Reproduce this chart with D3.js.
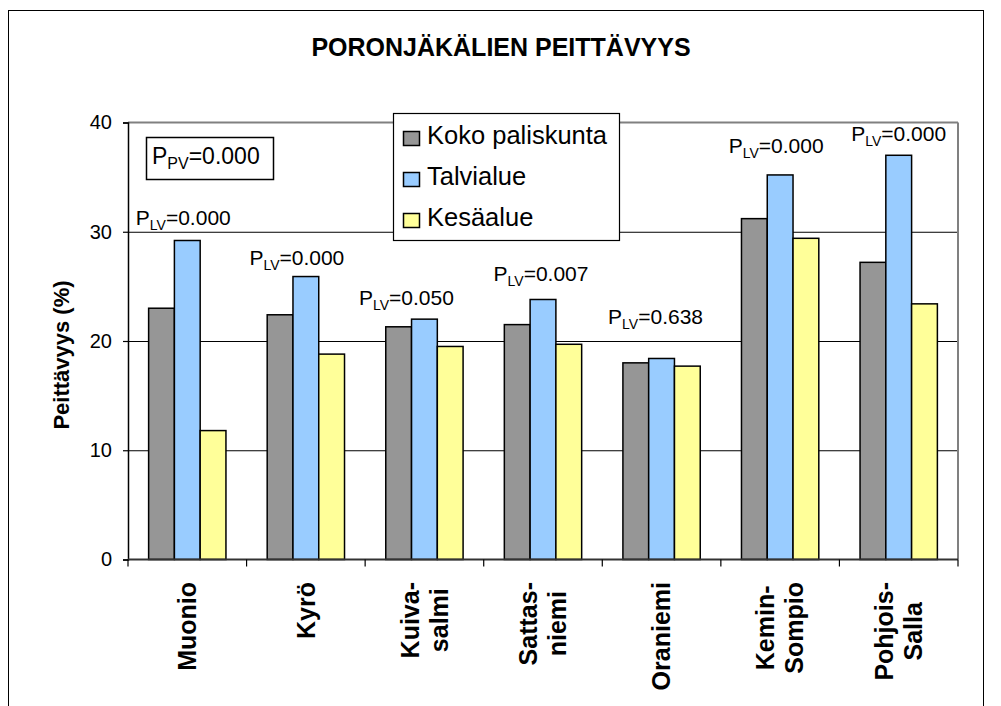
<!DOCTYPE html>
<html>
<head>
<meta charset="utf-8">
<script src="https://cdn.jsdelivr.net/npm/d3@7"></script>
<style>
body { margin: 0; background: #fff; }
svg text { font-family: Arial, "Liberation Sans", sans-serif; fill: #000; }
</style>
</head>
<body>
<svg id="chart" width="1001" height="706"></svg>
<script>
// values
const categories = ["Muonio", "Kyrö", "Kuiva-salmi", "Sattas-niemi", "Oraniemi", "Kemin-Sompio", "Pohjois-Salla"];
const seriesNames = ["Koko paliskunta", "Talvialue", "Kesäalue"];
const kokoValues = [23.0, 22.4, 21.3, 21.5, 18.0, 31.2, 27.2];
const talviValues = [29.2, 25.9, 22.0, 23.8, 18.4, 35.2, 37.0];
const kesaValues = [11.8, 18.8, 19.5, 19.7, 17.7, 29.4, 23.4];
const pLvValues = ["0.000", "0.000", "0.050", "0.007", "0.638", "0.000", "0.000"];
const pLvLevels = [30.6, 27.0, 23.3, 25.5, 21.6, 37.2, 38.3];   // where each label sits, in %
const pPvValue = "0.000";
const yTicks = [0, 10, 20, 30, 40];

const seriesColors = ["#969696", "#99ccff", "#ffff99"];
const labelNudge = [-4, -9, -18, -2, -6, -4, 0];

class PeittavyysChart {
    constructor(svg_id) {
        this.svg = d3.select("#" + svg_id);
        this.plot = {left: 128, right: 958, top: 122.5, bottom: 559.5};
        this.render();
    }

    render() {
        let svg = this.svg;
        let plot = this.plot;
        let plotW = plot.right - plot.left;

        let rows = categories.map(function(c, i) {
            return {name: c, values: [kokoValues[i], talviValues[i], kesaValues[i]]};
        });

        // outer frame (bottom runs off the page)
        svg.append("rect")
            .attr("x", 8.5).attr("y", 10.5)
            .attr("width", 975).attr("height", 720)
            .style("fill", "#fff").style("stroke", "#000").style("stroke-width", 1);

        let x0 = d3.scaleBand().domain(categories).range([plot.left, plot.right]);
        let bw = x0.bandwidth();
        let gap = bw * 1.6 / 4.6;
        let x1 = d3.scaleBand().domain(seriesNames).range([gap / 2, bw - gap / 2]);
        let y = d3.scaleLinear().domain([0, 40]).range([plot.bottom, plot.top]);

        // gridlines
        let grid = svg.append("g")
            .attr("transform", "translate(" + plot.left + ",0)")
            .call(d3.axisLeft(y).tickValues(yTicks.filter(t => t > 0 && t < 40)).tickSize(-plotW).tickFormat(""));
        grid.select(".domain").remove();
        grid.selectAll("line").style("stroke", "#000").style("stroke-width", 1);

        // plot area border top / right
        svg.append("line")
            .attr("x1", plot.left).attr("x2", plot.right)
            .attr("y1", y(40)).attr("y2", y(40))
            .style("stroke", "#808080").style("stroke-width", 2);
        svg.append("line")
            .attr("x1", plot.right).attr("x2", plot.right)
            .attr("y1", y(40)).attr("y2", y(0))
            .style("stroke", "#808080").style("stroke-width", 2);

        // bars
        let groups = svg.selectAll("g.group")
            .data(rows)
            .enter()
            .append("g")
            .attr("class", "group")
            .attr("transform", d => "translate(" + x0(d.name) + ",0)");

        groups.selectAll("rect")
            .data(d => d.values.map((v, j) => ({series: seriesNames[j], value: v, j: j})))
            .enter()
            .append("rect")
            .attr("x", d => x1(d.series))
            .attr("y", d => y(d.value))
            .attr("width", x1.bandwidth())
            .attr("height", d => y(0) - y(d.value))
            .style("fill", d => seriesColors[d.j])
            .style("stroke", "#000")
            .style("stroke-width", 1.5);

        // y axis
        let yAxis = d3.axisLeft(y).tickValues(yTicks).tickSize(5).tickPadding(11);
        let gY = svg.append("g")
            .attr("transform", "translate(" + plot.left + ",0)")
            .call(yAxis);
        gY.select(".domain").style("stroke", "#000").style("stroke-width", 1.5);
        gY.selectAll(".tick line").style("stroke", "#000").style("stroke-width", 1.2);
        gY.selectAll(".tick text").style("font-size", "20px").style("font-family", "Arial, 'Liberation Sans', sans-serif");

        // x axis line + ticks at category boundaries
        svg.append("line")
            .attr("x1", plot.left).attr("x2", plot.right)
            .attr("y1", y(0)).attr("y2", y(0))
            .style("stroke", "#333").style("stroke-width", 2);
        let bounds = categories.map(c => x0(c)).concat([plot.right]);
        svg.selectAll("line.xtick")
            .data(bounds)
            .enter()
            .append("line")
            .attr("class", "xtick")
            .attr("x1", d => d).attr("x2", d => d)
            .attr("y1", y(0)).attr("y2", y(0) + 7)
            .style("stroke", "#000").style("stroke-width", 1.2);

        // category labels, rotated
        let labelTop = 582;
        categories.forEach(function(c) {
            let lines = c.split(/(?<=-)/);
            let cx = x0(c) + bw / 2;
            let g = svg.append("g").attr("transform", "translate(" + cx + ",0) rotate(-90)");
            let texts = lines.map(function(line, i) {
                return g.append("text")
                    .attr("y", (i - (lines.length - 1) / 2) * 29)
                    .attr("dy", "0.35em")
                    .attr("text-anchor", "middle")
                    .style("font-size", "25px")
                    .style("font-weight", "bold")
                    .text(line);
            });
            let maxLen = d3.max(texts, t => t.node().getComputedTextLength());
            texts.forEach(t => t.attr("x", -(labelTop + maxLen / 2)));
        });

        // P_LV labels
        rows.forEach(function(d, i) {
            let t = svg.append("text")
                .attr("x", x0(d.name) + bw / 2 + labelNudge[i])
                .attr("y", y(pLvLevels[i]))
                .attr("text-anchor", "middle")
                .style("font-size", "21px");
            t.append("tspan").text("P");
            t.append("tspan").attr("dy", 5).style("font-size", "14px").text("LV");
            t.append("tspan").attr("dy", -5).text("=" + pLvValues[i]);
        });

        // P_PV box
        svg.append("rect")
            .attr("x", 146.5).attr("y", 137.5)
            .attr("width", 127).attr("height", 42)
            .style("fill", "#fff").style("stroke", "#000").style("stroke-width", 1.5);
        let pv = svg.append("text").attr("x", 152).attr("y", 164).style("font-size", "23px");
        pv.append("tspan").text("P");
        pv.append("tspan").attr("dy", 5).style("font-size", "16px").text("PV");
        pv.append("tspan").attr("dy", -5).text("=" + pPvValue);

        // legend
        let legend = svg.append("g");
        legend.append("rect")
            .attr("x", 393.5).attr("y", 113.5)
            .attr("width", 226).attr("height", 127)
            .style("fill", "#fff").style("stroke", "#000").style("stroke-width", 1.2);
        seriesNames.forEach(function(s, i) {
            let base = 143.5 + i * 41;
            legend.append("rect")
                .attr("x", 403.5).attr("y", base - 12)
                .attr("width", 16).attr("height", 14)
                .style("fill", seriesColors[i]).style("stroke", "#000").style("stroke-width", 1.5);
            legend.append("text")
                .attr("x", 427).attr("y", base)
                .style("font-size", "25.5px")
                .text(s);
        });

        // title and y label
        svg.append("text")
            .attr("x", 501).attr("y", 56)
            .attr("text-anchor", "middle")
            .style("font-size", "25px").style("font-weight", "bold")
            .text("PORONJÄKÄLIEN PEITTÄVYYS");

        svg.append("text")
            .attr("transform", "translate(69,355) rotate(-90)")
            .attr("text-anchor", "middle")
            .style("font-size", "22px").style("font-weight", "bold")
            .text("Peittävyys (%)");
    }
}

new PeittavyysChart("chart");
</script>
</body>
</html>
